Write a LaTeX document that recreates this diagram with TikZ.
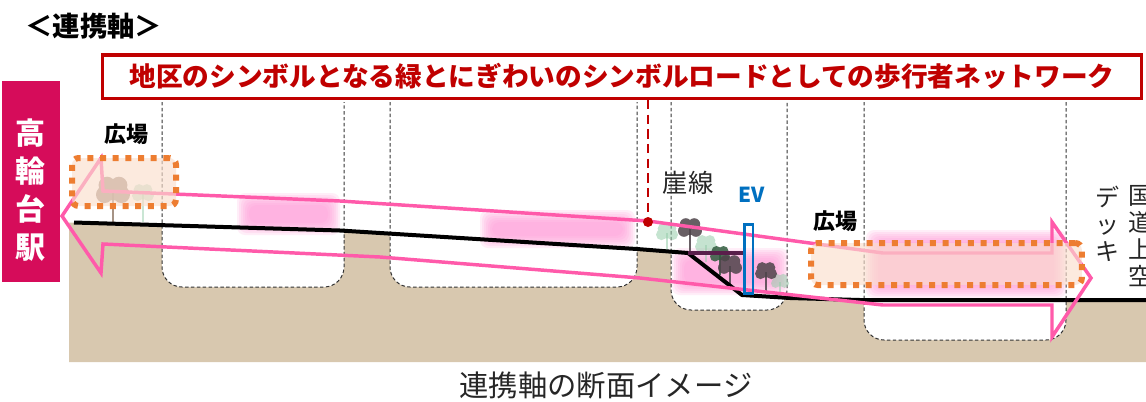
\documentclass[tikz,border=0pt]{standalone}
\usepackage{fontspec}
\setmainfont{Noto Sans CJK JP}
\usetikzlibrary{positioning}

\definecolor{bannerred}{RGB}{192,0,0}
\definecolor{stationred}{RGB}{214,12,90}
\definecolor{groundtan}{RGB}{216,200,175}
\definecolor{routepink}{RGB}{255,90,170}
\definecolor{hazepink}{RGB}{255,150,215}
\definecolor{plazaorange}{RGB}{237,125,49}
\definecolor{plazafill}{RGB}{250,222,205}
\definecolor{evblue}{RGB}{0,112,192}
\definecolor{treedark}{RGB}{78,68,74}
\definecolor{treebrown}{RGB}{150,128,112}
\definecolor{treegreen}{RGB}{48,92,62}
\definecolor{treelight}{RGB}{150,205,170}
\definecolor{deckpurple}{RGB}{90,30,75}

\tikzset{
  banner/.style={draw=bannerred, line width=2.6pt, fill=white, text=bannerred,
    minimum width=779pt, minimum height=32.6pt, inner sep=0pt,
    font=\bfseries\fontsize{20}{24}\selectfont},
  station/.style={fill=stationred, minimum width=43.5pt, minimum height=150.75pt, inner sep=0pt},
  stationtext/.style={text=white, align=center, inner sep=0pt,
    font=\bfseries\fontsize{22.5}{28.5}\selectfont},
  cutline/.style={draw=black!80, line width=0.75pt, dash pattern=on 2.6pt off 1.8pt},
  surface/.style={line width=3pt, line join=round},
  route/.style={draw=routepink, line width=2.6pt, line join=miter},
  plaza/.style={draw=plazaorange, line width=4.5pt, dash pattern=on 4.5pt off 5pt,
    rounded corners=5pt, fill=plazafill, fill opacity=0.65, inner sep=0pt},
  plazatext/.style={font=\bfseries\fontsize{16.5}{20}\selectfont},
  note/.style={text=black!85, font=\fontsize{19}{22}\selectfont},
  vnote/.style={text=black!85, align=center, inner sep=0pt, font=\fontsize{18}{20.2}\selectfont},
  evshaft/.style={draw=evblue, line width=2pt, minimum width=6.5pt, minimum height=52pt, inner sep=0pt},
  evtext/.style={text=evblue, font=\bfseries\fontsize{15.5}{18}\selectfont},
  marker/.style={circle, fill=bannerred, minimum size=7.5pt, inner sep=0pt},
  leader/.style={draw=bannerred, line width=2.2pt, dash pattern=on 7pt off 4pt},
}

% soft pink glow: stacked rectangles, shrinking inwards
\newcommand{\pinkhaze}[4]{%
  \foreach \s in {0,2,...,12}
    \fill[hazepink, opacity=0.16, rounded corners=6pt] (#1+\s,#2+\s) rectangle (#3-\s,#4-\s);
}
% x, ground y, canopy y, radius, colour, opacity
\newcommand{\drawtree}[6]{%
  \draw[#5, opacity=#6, line width=1pt] (#1,#2) -- (#1,#3);
  \fill[#5, opacity=#6] (#1-0.5*#4,#3+0.15*#4) circle[radius=0.5*#4*0.75pt]
    (#1+0.5*#4,#3+0.15*#4) circle[radius=0.5*#4*0.75pt]
    (#1-0.35*#4,#3-0.4*#4) circle[radius=0.5*#4*0.75pt]
    (#1+0.35*#4,#3-0.4*#4) circle[radius=0.5*#4*0.75pt]
    (#1,#3-0.1*#4) circle[radius=0.6*#4*0.75pt];
}

\begin{document}
\begin{tikzpicture}[x=0.75pt, y=-0.75pt]
  \useasboundingbox (0,0) rectangle (1146,401);

  % ground
  \fill[groundtan] (69,222.5) -- (340,230.5) -- (637,249) -- (688,253) -- (742,295)
    -- (790,298) -- (860,300) -- (1146,300) -- (1146,362) -- (69,362) -- cycle;

  % underground spaces
  \foreach \l/\r/\b in {162/344/287, 390/637/287, 671/787/310, 864/1066/340} {
    \fill[white, rounded corners=15pt] (\l,102) -- (\l,\b) -- (\r,\b) -- (\r,102) -- cycle;
    \draw[cutline, rounded corners=15pt] (\l,102) -- (\l,\b) -- (\r,\b) -- (\r,102);
  }

  \pinkhaze{237}{193}{340}{235}
  \pinkhaze{480}{210}{635}{248}
  \pinkhaze{672}{248}{788}{295}
  \pinkhaze{866}{230}{1066}{298}

  % trees
  \drawtree{143}{222}{194}{11}{treelight}{0.5}
  \drawtree{113}{222}{192}{17}{treebrown}{0.85}
  \drawtree{667}{250}{233}{11}{treelight}{0.55}
  \drawtree{706}{262}{245}{11}{treelight}{0.55}
  \drawtree{690}{253}{229}{12}{treedark}{0.85}
  \drawtree{720}{275}{255}{10}{treegreen}{0.85}
  \drawtree{730}{285}{266}{12}{treedark}{0.85}
  \drawtree{780}{296}{282}{9}{treelight}{0.55}
  \drawtree{766}{293}{272}{11}{treedark}{0.85}

  % ground surface
  \draw[surface] (74,222.5) -- (340,230.5) -- (637,249) -- (688,253) -- (742,295)
    -- (790,298) -- (860,300) -- (1146,300);
  \draw[deckpurple, line width=2.4pt] (688,253) -- (745,253);

  % pedestrian axis
  \draw[route] (62,216) -- (101,158) -- (103,191) -- (340,201) -- (648,221) -- (883,253)
    -- (1052,253) -- (1052,222) -- (1091,278) -- (1052,337) -- (1052,305) -- (883,305)
    -- (640,278) -- (380,257) -- (103,244) -- (101,273) -- cycle;

  \node[plaza, minimum width=78pt, minimum height=36pt] (plazaW) at (124,182) {};
  \node[plaza, minimum width=203pt, minimum height=31.5pt] (plazaE) at (946.5,264) {};
  \node[plazatext] (plazaWname) at (126,134) {広場};
  \node[plazatext] (plazaEname) at (835,221) {広場};

  \node[font=\bfseries\fontsize{20.5}{24}\selectfont] (heading) at (94,26) {＜連携軸＞};
  \node[banner] (banner) at (622,76.5) {地区のシンボルとなる緑とにぎわいのシンボルロードとしての歩行者ネットワーク};
  \node[marker] (cliffpt) at (648,222) {};
  \draw[leader] (banner.south -| cliffpt) -- (cliffpt);

  \node[station] (station) at (31,181.5) {};
  \node[stationtext] (stationname) at (31,190) {高\\輪\\台\\駅};

  \node[note] (cliffname) at (688,183) {崖線};
  \node[evshaft] (ev) at (748.5,259) {};
  \node[evtext] (evname) at (752,195) {EV};
  \node[vnote] (deckname) at (1107,224) {デ\\ッ\\キ};
  \node[vnote] (roadname) at (1140,236) {国\\道\\上\\空};

  \node[text=black!85, font=\fontsize{22}{26}\selectfont] (caption) at (606,385) {連携軸の断面イメージ};
\end{tikzpicture}
\end{document}
